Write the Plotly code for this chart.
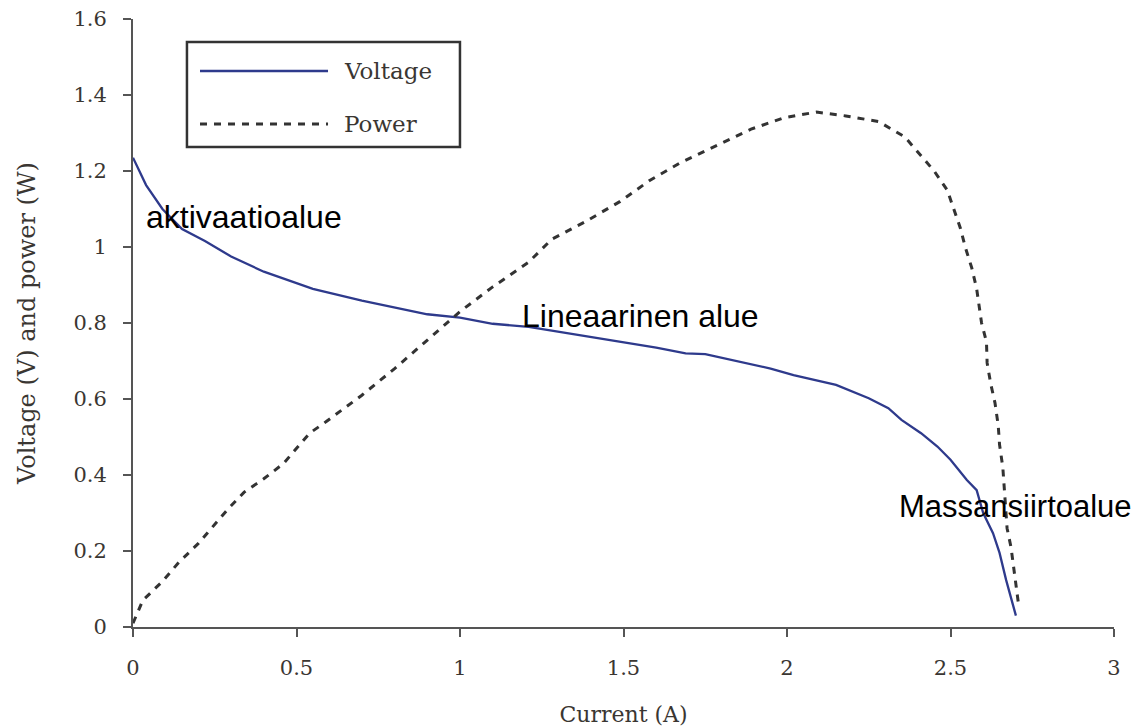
import plotly.graph_objects as go

# ---- data ----
current_v = [0.0, 0.04, 0.09, 0.15, 0.22, 0.30, 0.40, 0.55, 0.70, 0.90, 1.00, 1.10, 1.21,
             1.42, 1.60, 1.69, 1.75, 1.95, 2.02, 2.15, 2.25, 2.31, 2.35, 2.41, 2.46, 2.50,
             2.55, 2.58, 2.60, 2.63, 2.65, 2.67, 2.70]
voltage = [1.235, 1.163, 1.10, 1.047, 1.016, 0.975, 0.935, 0.89, 0.859, 0.823, 0.814, 0.798, 0.79,
           0.76, 0.735, 0.72, 0.718, 0.68, 0.663, 0.637, 0.602, 0.576, 0.545, 0.51, 0.475, 0.44,
           0.387, 0.36, 0.30, 0.247, 0.195, 0.124, 0.03]

current_p = [0.0, 0.03, 0.09, 0.14, 0.20, 0.25, 0.29, 0.34, 0.40, 0.46, 0.50, 0.54, 0.59,
             0.70, 0.80, 0.90, 1.00, 1.10, 1.21, 1.28, 1.38, 1.49, 1.58, 1.67, 1.79, 1.89,
             1.99, 2.09, 2.18, 2.28, 2.36, 2.40, 2.45, 2.49, 2.51, 2.53, 2.545, 2.565, 2.58,
             2.595, 2.61, 2.612, 2.623, 2.636, 2.646, 2.65, 2.66, 2.664, 2.67, 2.673, 2.685,
             2.694, 2.703, 2.708]
power = [0.01, 0.07, 0.12, 0.17, 0.22, 0.27, 0.31, 0.355, 0.39, 0.43, 0.47, 0.51, 0.54,
         0.61, 0.68, 0.755, 0.83, 0.895, 0.96, 1.02, 1.065, 1.12, 1.175, 1.22, 1.27, 1.31,
         1.34, 1.355, 1.345, 1.33, 1.29, 1.25, 1.20, 1.15, 1.10, 1.05, 1.00, 0.945, 0.89,
         0.80, 0.75, 0.695, 0.64, 0.59, 0.53, 0.48, 0.42, 0.365, 0.31, 0.26, 0.21,
         0.15, 0.09, 0.06]

x_ticks = [0, 0.5, 1, 1.5, 2, 2.5, 3]
x_tick_labels = ["0", "0.5", "1", "1.5", "2", "2.5", "3"]
y_ticks = [0, 0.2, 0.4, 0.6, 0.8, 1.0, 1.2, 1.4, 1.6]
y_tick_labels = ["0", "0.2", "0.4", "0.6", "0.8", "1", "1.2", "1.4", "1.6"]

region_labels = ["aktivaatioalue", "Lineaarinen alue", "Massansiirtoalue"]
legend_names = ["Voltage", "Power"]

# ---- styling / placement ----
region_pos = [(0.035, 1.078), (1.184, 0.818), (2.335, 0.318)]
region_size = [32, 32, 31]

VCOL = "#2e3a8c"
PCOL = "#333333"
AXC = "#555555"
TXT = "#3a3632"
SERIF = "DejaVu Serif, Liberation Serif, serif"

fig = go.Figure()
fig.add_trace(go.Scatter(x=current_v, y=voltage, mode="lines", name=legend_names[0],
                         line=dict(color=VCOL, width=2.3)))
fig.add_trace(go.Scatter(x=current_p, y=power, mode="lines", name=legend_names[1],
                         line=dict(color=PCOL, width=3, dash="7px,7px")))

for txt, (x, y), sz in zip(region_labels, region_pos, region_size):
    fig.add_annotation(x=x, y=y, xref="x", yref="y", text=txt, showarrow=False,
                       xanchor="left", yanchor="middle",
                       font=dict(family="Liberation Sans, Arial, sans-serif", size=sz, color="black"))

# manual legend (long sample lines as in the reference)
fig.add_shape(type="rect", xref="paper", yref="paper", x0=0.055, x1=0.3333, y0=0.7895, y1=0.962,
              line=dict(color="#333333", width=2.5), fillcolor="white", layer="below")
fig.add_shape(type="line", xref="paper", yref="paper", x0=0.0683, x1=0.1988, y0=0.9145, y1=0.9145,
              line=dict(color=VCOL, width=2.3))
fig.add_shape(type="line", xref="paper", yref="paper", x0=0.0683, x1=0.1988, y0=0.8273, y1=0.8273,
              line=dict(color=PCOL, width=3, dash="7px,7px"))
for name, yy in zip(legend_names, [0.9145, 0.8273]):
    fig.add_annotation(x=0.2135, y=yy, xref="paper", yref="paper", text=name, showarrow=False,
                       xanchor="left", yanchor="middle",
                       font=dict(family=SERIF, size=23, color=TXT))

# page body has an 8px margin, so the figure is sized to fit the 1141x728 window
fig.update_layout(
    width=1133, height=720,
    margin=dict(l=125, r=27, t=11, b=101, autoexpand=False),
    plot_bgcolor="white", paper_bgcolor="white",
    showlegend=False,
    font=dict(family=SERIF, size=21, color=TXT),
)
fig.update_xaxes(range=[0, 3], tickvals=x_ticks, ticktext=x_tick_labels, automargin=False,
                 showgrid=False, zeroline=False, showline=True, linecolor=AXC, linewidth=2,
                 ticks="outside", ticklen=8, tickwidth=2, tickcolor=AXC,
                 ticklabelstandoff=13, ticklabeloverflow="allow",
                 tickfont=dict(family=SERIF, size=21, color=TXT),
                 title=dict(text="Current (A)", font=dict(family=SERIF, size=22, color=TXT), standoff=27))
fig.update_yaxes(range=[0, 1.6], tickvals=y_ticks, ticktext=y_tick_labels, automargin=False,
                 showgrid=False, zeroline=False, showline=True, linecolor=AXC, linewidth=2,
                 ticks="outside", ticklen=8, tickwidth=2, tickcolor=AXC,
                 ticklabelstandoff=12, ticklabeloverflow="allow",
                 tickfont=dict(family=SERIF, size=21, color=TXT),
                 title=dict(text="Voltage (V) and power (W)", font=dict(family=SERIF, size=24, color=TXT),
                            standoff=31))

fig.write_html("out.html")
